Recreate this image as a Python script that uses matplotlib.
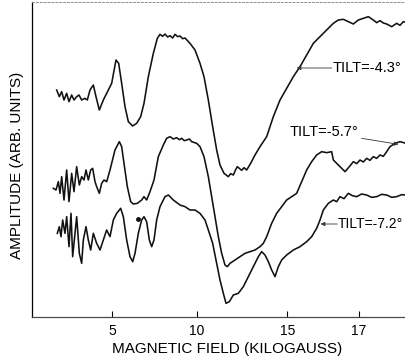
import matplotlib.pyplot as plt

# field positions (chart units) and amplitudes (arb. units)
tilt43_x = [1.56, 1.72, 1.86, 2.00, 2.16, 2.30, 2.46, 2.60, 2.76, 2.90, 3.06, 3.26, 3.40, 3.56,
            3.76, 3.92, 4.12, 4.36, 4.56, 4.86, 5.12, 5.28, 5.46, 5.66, 5.86, 6.12, 6.36, 6.60,
            6.80, 7.06, 7.36, 7.60, 7.76, 7.92, 8.06, 8.22, 8.36, 8.52, 8.66, 8.82, 8.96, 9.12,
            9.26, 9.56, 9.86, 10.16, 10.40,
            10.66, 10.92, 11.16, 11.36, 11.60, 11.86, 12.00, 12.16, 12.30, 12.40, 12.66, 12.80,
            12.96, 13.20, 13.46, 13.76, 14.16, 14.56, 14.96, 15.36, 15.76, 16.16, 16.56, 16.96,
            17.36, 17.76, 18.16, 18.46, 18.76, 19.06, 19.36, 19.66, 19.96, 20.26, 20.56, 20.76,
            20.96, 21.16, 21.36, 21.66, 21.96, 22.16, 22.36, 22.52]
tilt43_y = [68.1, 66.1, 67.6, 65.1, 67.1, 64.6, 66.6, 65.1, 66.1, 66.6, 65.1, 65.6, 65.1, 68.1,
            69.6, 66.1, 62.1, 65.1, 67.1, 70.1, 77.1, 76.1, 70.1, 63.1, 58.6, 57.3, 58.1, 60.1,
            64.1, 72.1, 79.1, 83.6, 84.8, 84.2, 84.9, 84.0, 84.4, 83.7, 84.8, 84.1, 84.3, 83.5,
            83.7, 82.1, 80.1, 76.1, 72.1,
            65.1, 57.1, 50.1, 45.6, 43.1, 42.1, 43.0, 42.6, 44.2, 45.1, 44.0, 44.8,
            44.1, 46.1, 48.6, 51.1, 54.1, 60.1, 65.1, 68.6, 72.1, 75.1, 78.6, 82.1,
            84.1, 86.1, 88.1, 89.1, 89.3, 88.6, 87.9, 89.1, 89.6, 90.1, 89.1, 88.3,
            88.9, 88.2, 87.9, 87.1, 88.1, 87.5, 88.6, 88.4]

tilt57_x = [1.36, 1.52, 1.66, 1.76, 1.86, 2.00, 2.16, 2.30, 2.46, 2.60, 2.76, 2.92, 3.06, 3.20,
            3.32, 3.46, 3.60, 3.72, 3.86, 3.96, 4.12, 4.26, 4.40, 4.56, 4.76, 5.06, 5.32, 5.46,
            5.60, 5.80, 6.00, 6.16, 6.40, 6.66, 6.80, 6.96, 7.16, 7.40, 7.66, 7.96, 8.16, 8.36,
            8.56, 8.76, 8.92, 9.06, 9.22, 9.36, 9.52, 9.66, 9.96, 10.16, 10.40, 10.66, 10.96,
            11.26, 11.46, 11.66, 11.80,
            11.96, 12.26, 12.56, 12.86, 13.16, 13.46, 13.76, 13.96, 14.16, 14.46, 14.76, 15.06,
            15.36, 15.66, 15.96, 16.26, 16.56, 16.86, 17.16, 17.46, 17.76, 18.06, 18.16, 18.36,
            18.56, 18.86, 19.12, 19.36, 19.56, 19.76, 19.96, 20.16, 20.36, 20.56, 20.76, 20.96,
            21.16, 21.36, 21.56, 21.86, 22.16, 22.52]
tilt57_y = [38.6, 38.1, 40.6, 37.1, 42.1, 35.1, 44.1, 34.6, 43.1, 37.6, 45.1, 39.6, 42.1, 41.1,
            44.1, 41.1, 44.1, 44.6, 40.6, 39.1, 37.1, 40.1, 41.1, 40.6, 44.1, 50.1, 52.6, 51.1,
            46.1, 39.1, 34.6, 33.9, 34.1, 35.1, 36.1, 35.1, 37.6, 41.1, 48.1, 51.6, 53.6, 54.1,
            53.4, 53.8, 53.2, 53.6, 52.9, 53.1, 53.4, 52.6, 52.1, 51.1, 48.1, 42.1, 33.1,
            24.1, 19.1, 15.6, 15.1,
            16.1, 17.1, 18.1, 19.1, 19.6, 20.1, 21.1, 22.1, 24.1, 28.1, 31.1, 33.1,
            35.1, 36.1, 37.1, 40.6, 44.1, 46.6, 48.6, 49.6, 49.3, 49.6, 47.1, 46.1,
            45.1, 43.6, 45.1, 46.6, 46.0, 47.1, 46.5, 47.6, 47.0, 48.1, 47.6, 48.6,
            48.2, 49.6, 51.1, 52.1, 52.6, 52.1]

tilt72_x = [1.60, 1.72, 1.82, 1.92, 2.06, 2.16, 2.30, 2.42, 2.52, 2.66, 2.76, 2.92, 3.06, 3.16,
            3.32, 3.46, 3.60, 3.76, 3.96, 4.16, 4.36, 4.56, 4.76, 4.96, 5.16, 5.40, 5.56, 5.76,
            5.96, 6.12, 6.26, 6.46, 6.66, 6.80, 6.96, 7.12, 7.26, 7.40, 7.56, 7.76, 8.06, 8.26,
            8.56, 8.96, 9.26, 9.56, 9.86, 10.16, 10.46, 10.66, 10.92, 11.16, 11.36, 11.56, 11.72,
            11.92, 12.16, 12.46, 12.76, 13.06, 13.36, 13.66, 13.86, 14.06, 14.26, 14.46, 14.66,
            14.86, 15.06, 15.36, 15.76, 16.16, 16.56, 16.86, 17.16, 17.36, 17.56, 17.86, 18.16,
            18.36, 18.56, 18.80, 19.06, 19.30, 19.56, 19.86, 20.16, 20.46, 20.76, 21.06, 21.36,
            21.66, 21.96, 22.26, 22.52]
tilt72_y = [25.1, 27.1, 24.1, 29.1, 25.1, 30.1, 21.1, 31.1, 18.1, 25.1, 30.1, 19.1, 16.1, 23.1,
            27.1, 23.1, 20.1, 25.1, 22.1, 20.1, 23.1, 26.1, 24.1, 29.1, 31.1, 32.6, 30.1, 23.1,
            18.1, 16.6, 19.1, 25.1, 29.1, 30.1, 28.6, 23.1, 21.1, 23.1, 29.1, 33.1, 36.1, 36.6,
            35.1, 33.6, 33.1, 32.1, 32.1, 31.1, 29.1, 26.1, 22.1, 16.1, 11.1, 7.1, 4.1,
            4.6, 6.6, 7.1, 9.1, 12.1, 15.1, 18.1, 19.6, 18.6, 16.6, 14.1, 12.1,
            15.1, 17.1, 18.6, 20.1, 21.1, 22.6, 24.1, 26.6, 29.1, 32.1, 34.1, 35.1,
            34.6, 36.1, 35.5, 37.1, 36.4, 36.1, 36.9, 36.6, 35.9, 36.1, 36.8, 36.6,
            35.9, 36.1, 36.7, 36.6]

tick_pos = [4.9, 9.96, 15.4, 19.7]
tick_labels = ['5', '10', '15', '17']

font = ['Liberation Sans', 'DejaVu Sans']

fig = plt.figure(figsize=(4.06, 3.58), dpi=100)
ax = fig.add_axes([32 / 406, 41 / 358, 374 / 406, 315 / 358])

for xs, ys in [(tilt43_x, tilt43_y), (tilt57_x, tilt57_y), (tilt72_x, tilt72_y)]:
    ax.plot(xs, ys, color='#111111', lw=1.15, solid_joinstyle='round')

# stray ink dot on the scan
ax.plot([6.46], [29.3], 'o', color='#111111', ms=2.5)

ax.set_xlim(0.08, 22.52)
ax.set_ylim(0, 94.5)

arrow = dict(arrowstyle='-|>', color='#333333', lw=0.6, mutation_scale=6, shrinkA=0, shrinkB=0)
ax.annotate('', xy=(15.96, 74.7), xytext=(18.06, 74.7), arrowprops=arrow)
ax.text(18.14, 74.7, 'TILT=-4.3°', family=font, fontsize=10.5, va='center', ha='left')
ax.annotate('', xy=(22.06, 51.8), xytext=(19.86, 53.6), arrowprops=arrow)
ax.text(15.56, 55.4, 'TILT=-5.7°', family=font, fontsize=10.5, va='center', ha='left')
ax.annotate('', xy=(17.4, 27.9), xytext=(18.4, 27.9), arrowprops=arrow)
ax.text(18.42, 27.9, 'TILT=-7.2°', family=font, fontsize=10, va='center', ha='left')

ax.set_xticks(tick_pos)
ax.set_xticklabels(tick_labels, family=font, fontsize=10)
ax.set_yticks([])
ax.tick_params(axis='x', direction='in', length=4.5, width=0.8, pad=5)

ax.spines['right'].set_visible(False)
ax.spines['top'].set_linestyle((0, (2, 2)))
ax.spines['top'].set_color('0.55')
ax.spines['top'].set_linewidth(0.7)
ax.spines['left'].set_linewidth(0.9)
ax.spines['bottom'].set_linewidth(0.9)
ax.spines['bottom'].set_color('0.3')

fig.text(227 / 406, 1 - 349 / 358, 'MAGNETIC FIELD (KILOGAUSS)', family=font, fontsize=11,
         ha='center', va='center')
fig.text(17 / 406, 1 - 165 / 358, 'AMPLITUDE (ARB. UNITS)', family=font, fontsize=11,
         ha='center', va='center', rotation=90)

fig.savefig('out.png', dpi=100)
